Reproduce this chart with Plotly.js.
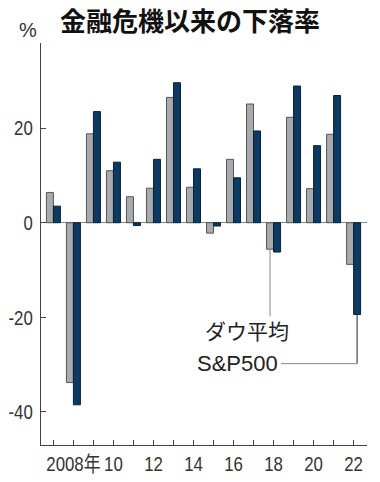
<!DOCTYPE html>
<html><head><meta charset="utf-8">
<script src="https://cdn.plot.ly/plotly-3.0.1.min.js"></script>
<style>html,body{margin:0;padding:0;background:#fff}#c{width:380px;height:482px}</style>
</head><body><div id="c"></div>
<script>
const years = [2007,2008,2009,2010,2011,2012,2013,2014,2015,2016,2017,2018,2019,2020,2021,2022];
const dow = [6.4,-33.8,18.8,11.0,5.5,7.3,26.5,7.5,-2.2,13.4,25.1,-5.6,22.3,7.2,18.7,-8.8];
const sp500 = [3.5,-38.5,23.5,12.8,-0.6,13.4,29.6,11.4,-0.7,9.5,19.4,-6.2,28.9,16.3,26.9,-19.4];
const tickYears = [2008,2010,2012,2014,2016,2018,2020,2022];
const tickText = ['2008年','10','12','14','16','18','20','22'];
const seriesNames = ['ダウ平均','S&P500'];
const titleText = '金融危機以来の下落率';

const tickFont = {family:'"Liberation Sans","Noto Sans CJK JP",sans-serif', size:21, color:'#333'};
const off = 0.175;
const dowX = years.map(y=>y-off), spX = years.map(y=>y+off);
const i18 = years.indexOf(2018), i22 = years.indexOf(2022);
const labelDowY = -19.8, labelSpY = -29.8;

const data = [
 {type:'bar', x:dowX, y:dow, name:seriesNames[0], width:0.35,
  marker:{color:'#a9aaae', line:{color:'#555', width:1}}},
 {type:'bar', x:spX, y:sp500, name:seriesNames[1], width:0.35,
  marker:{color:'#0d3a60', line:{color:'#0a2238', width:1}}}
];
const layout = {
 width:380, height:482, showlegend:false, barmode:'overlay',
 margin:{l:41, r:13, t:43, b:37},
 paper_bgcolor:'#fff', plot_bgcolor:'#fff',
 title:{text:'<b>'+titleText+'</b>', x:0.5, xanchor:'center', y:0.955, yanchor:'middle',
  font:{family:'"Noto Sans CJK JP",sans-serif', size:26, weight:900, color:'#111'}},
 xaxis:{range:[2006.38,2022.67], showgrid:false, zeroline:false, showline:true, linecolor:'#444', linewidth:1,
  ticks:'inside', ticklen:5, tickcolor:'#444', tickvals:years, tickangle:0,
  ticktext:years.map(y=>{const k=tickYears.indexOf(y); return k>=0?tickText[k]:'';}),
  tickfont:tickFont, fixedrange:true},
 yaxis:{range:[-47,38], showgrid:false, zeroline:true, zerolinecolor:'#888', zerolinewidth:1,
  showline:true, linecolor:'#444', linewidth:1, ticks:'inside', ticklen:5, tickcolor:'#444',
  tickvals:[-40,-20,0,20], ticktext:['-40','-20','0','20'], tickfont:tickFont, ticklabelstandoff:3},
 shapes:[
  {type:'line', xref:'x', yref:'y', x0:dowX[i18], x1:dowX[i18], y0:dow[i18], y1:labelDowY, line:{color:'#888', width:1}},
  {type:'line', xref:'x', yref:'y', x0:spX[i22], x1:spX[i22], y0:sp500[i22], y1:labelSpY, line:{color:'#222', width:1}},
  {type:'line', xref:'x', yref:'y', x0:2018.37, x1:spX[i22], y0:labelSpY, y1:labelSpY, line:{color:'#888', width:1}}
 ],
 annotations:[
  {text:'%', xref:'paper', yref:'paper', x:-0.005, y:1.0, xanchor:'right', yanchor:'bottom', showarrow:false,
   font:{family:'"Liberation Sans","Noto Sans CJK JP",sans-serif', size:20, color:'#333'}},
  {text:seriesNames[0], xref:'x', yref:'y', x:2014.45, y:-22.6, xanchor:'left', yanchor:'middle', showarrow:false,
   font:{family:'"Noto Sans CJK JP",sans-serif', size:21, color:'#222'}},
  {text:seriesNames[1], xref:'x', yref:'y', x:2018.33, y:labelSpY, xanchor:'right', yanchor:'middle', showarrow:false,
   font:{family:'"Liberation Sans","Noto Sans CJK JP",sans-serif', size:22, color:'#222'}}
 ]
};
Plotly.newPlot('c', data, layout, {displayModeBar:false, staticPlot:true}).then(()=>{
  document.querySelectorAll('.xtick text, .ytick text').forEach(t=>{
    const w = t.getComputedTextLength();
    if (w > 0) { t.setAttribute('textLength', (w*0.8).toFixed(1)); t.setAttribute('lengthAdjust','spacingAndGlyphs'); }
  });
});
</script></body></html>
